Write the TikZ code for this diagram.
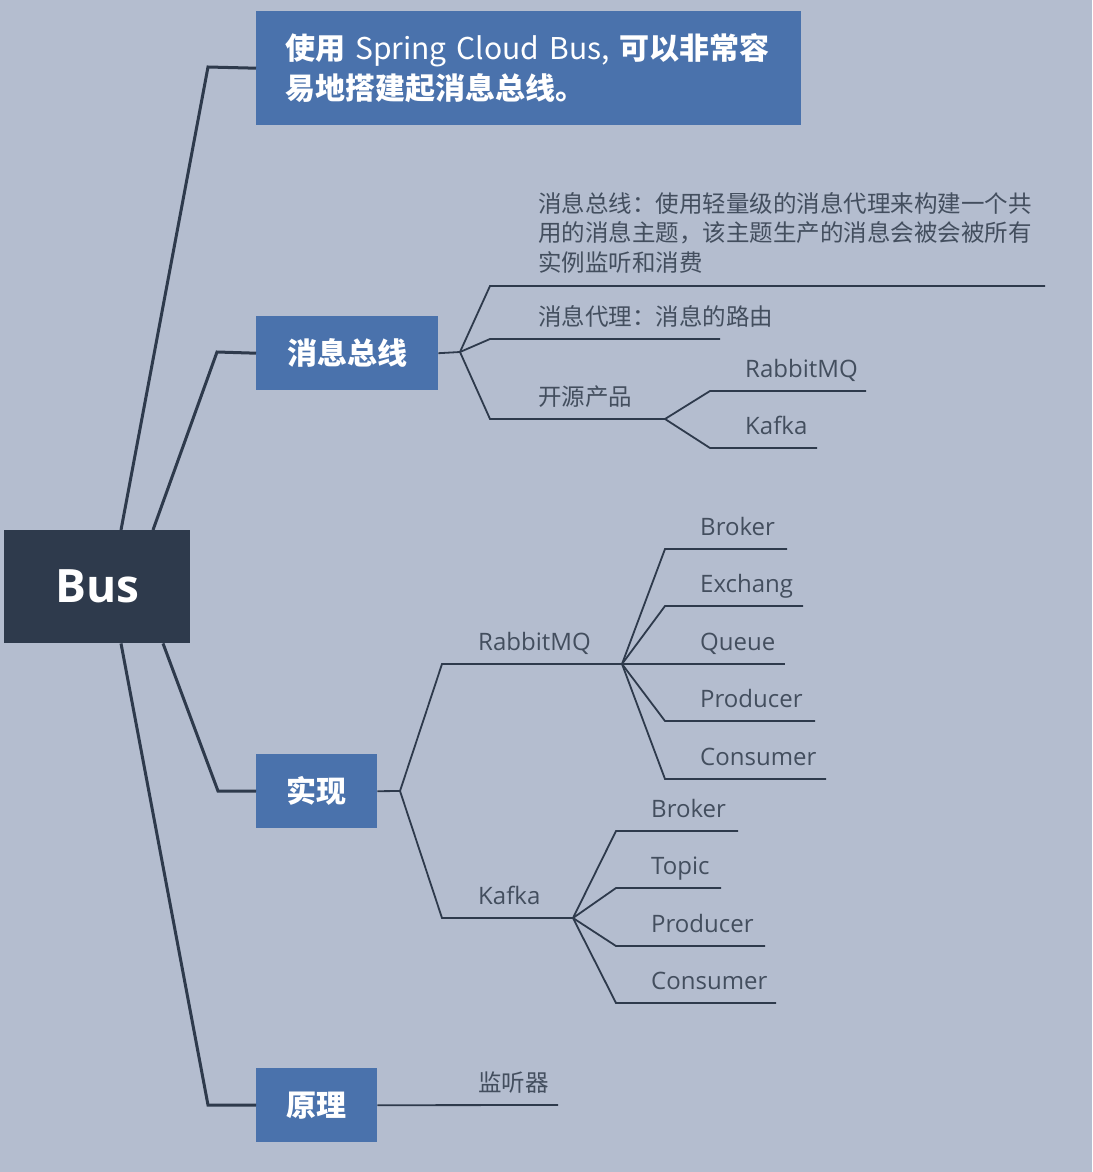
\documentclass[tikz,border=0pt]{standalone}
\usepackage{fontspec}
\setmainfont{Open Sans}
\newfontfamily\cjk{Noto Sans CJK SC}
\definecolor{bgc}{HTML}{B4BDCF}
\definecolor{boxblue}{HTML}{4A72AC}
\definecolor{darkc}{HTML}{2E3A4C}
\definecolor{linec}{HTML}{2E3A4C}
\definecolor{txtc}{HTML}{434E5E}
\begin{document}
\begin{tikzpicture}[x=1pt,y=-1pt,
  mainline/.style={draw=linec, line width=3pt},
  subline/.style={draw=linec, line width=1.8pt},
  box/.style={fill=boxblue, text=white, inner sep=0pt, anchor=north west,
    font=\cjk\bfseries\fontsize{30}{40}\selectfont},
  darkbox/.style={fill=darkc, text=white, inner sep=0pt, anchor=north west,
    font=\bfseries\fontsize{46}{50}\selectfont},
  lbl/.style={text=txtc, inner sep=0pt, anchor=base west, font=\fontsize{24}{29.5}\selectfont},
  clbl/.style={text=txtc, inner sep=0pt, anchor=base west, font=\cjk\fontsize{23.5}{29.5}\selectfont}]
\fill[bgc] (0,0) rectangle (1092,1172);
\useasboundingbox (0,0) rectangle (1092,1172);

% main boxes
\node[darkbox, minimum width=186pt, minimum height=113pt] (bus) at (4,530) {Bus};
\node[box, minimum width=545pt, minimum height=114pt, text width=487pt, inner xsep=29pt, align=left] (top) at (256,11)
  {\mbox{使用{\mdseries\ Spring Cloud Bus,} 可以非常容}\\易地搭建起消息总线。};
\node[box, minimum width=182pt, minimum height=74pt] (xx) at (256,316) {消息总线};
\node[box, minimum width=121pt, minimum height=74pt] (impl) at (256,754) {实现};
\node[box, minimum width=121pt, minimum height=74pt] (yl) at (256,1068) {原理};

% main connectors
\coordinate (k1) at (208,67);
\coordinate (k2) at (217,352);
\coordinate (k3) at (218,791);
\coordinate (k4) at (208,1105);
\draw[mainline] ([xshift=117pt]bus.north west) -- (k1) -- (top.west);
\draw[mainline] ([xshift=149pt]bus.north west) -- (k2) -- (xx.west);
\draw[mainline] ([xshift=159pt]bus.south west) -- (k3) -- (impl.west);
\draw[mainline] ([xshift=117pt]bus.south west) -- (k4) -- (yl.west);

% 消息总线 branch
\coordinate (xb) at (460,352);
\coordinate (x1s) at (490,286); \coordinate (x1e) at (1045,286);
\coordinate (x2s) at (490,339); \coordinate (x2e) at (720,339);
\coordinate (x3s) at (490,419); \coordinate (x3e) at (665,419);
\draw[subline] (xx.east) -- (xb);
\draw[subline] (xb) -- (x1s) -- (x1e);
\draw[subline] (xb) -- (x2s) -- (x2e);
\draw[subline] (xb) -- (x3s) -- (x3e);
\node[clbl, anchor=north west, align=left] (x1t) at (538,192)
  {消息总线：使用轻量级的消息代理来构建一个共\\用的消息主题，该主题生产的消息会被会被所有\\实例监听和消费};
\node[clbl] (x2t) at (538,325) {消息代理：消息的路由};
\node[clbl] (x3t) at (538,405) {开源产品};
\coordinate (o1s) at (710,391); \coordinate (o1e) at (866,391);
\coordinate (o2s) at (710,448); \coordinate (o2e) at (817,448);
\draw[subline] (x3e) -- (o1s) -- (o1e);
\draw[subline] (x3e) -- (o2s) -- (o2e);
\node[lbl] (o1t) at (745,377) {RabbitMQ};
\node[lbl] (o2t) at (745,434) {Kafka};

% 实现 branch
\coordinate (ib) at (400,791);
\coordinate (rs) at (442,664); \coordinate (re) at (622,664);
\coordinate (ks) at (442,918); \coordinate (ke) at (573,918);
\draw[subline] (impl.east) -- (ib);
\draw[subline] (ib) -- (rs) -- (re);
\draw[subline] (ib) -- (ks) -- (ke);
\node[lbl] (rt) at (478,650.5) {RabbitMQ};
\node[lbl] (kt) at (478,904.5) {Kafka};

\foreach \n/\y/\e/\t in {1/549/787/Broker, 2/606/803/Exchang, 3/664/785/Queue, 4/721/815/Producer, 5/779/826/Consumer}{
  \coordinate (rc\n s) at (665,\y);
  \coordinate (rc\n e) at (\e,\y);
  \draw[subline] (re) -- (rc\n s) -- (rc\n e);
  \node[lbl] (rc\n t) at (700,\y-13.5) {\t};
}
\foreach \n/\y/\e/\t in {1/831/738/Broker, 2/888/721/Topic, 3/946/765/Producer, 4/1003/776/Consumer}{
  \coordinate (kc\n s) at (616,\y);
  \coordinate (kc\n e) at (\e,\y);
  \draw[subline] (ke) -- (kc\n s) -- (kc\n e);
  \node[lbl] (kc\n t) at (651,\y-13.5) {\t};
}

% 原理 branch
\coordinate (yle) at (558,1105);
\draw[subline] (yl.east) -- (yle);
\node[clbl] (ylt) at (478,1091) {监听器};
\end{tikzpicture}
\end{document}
